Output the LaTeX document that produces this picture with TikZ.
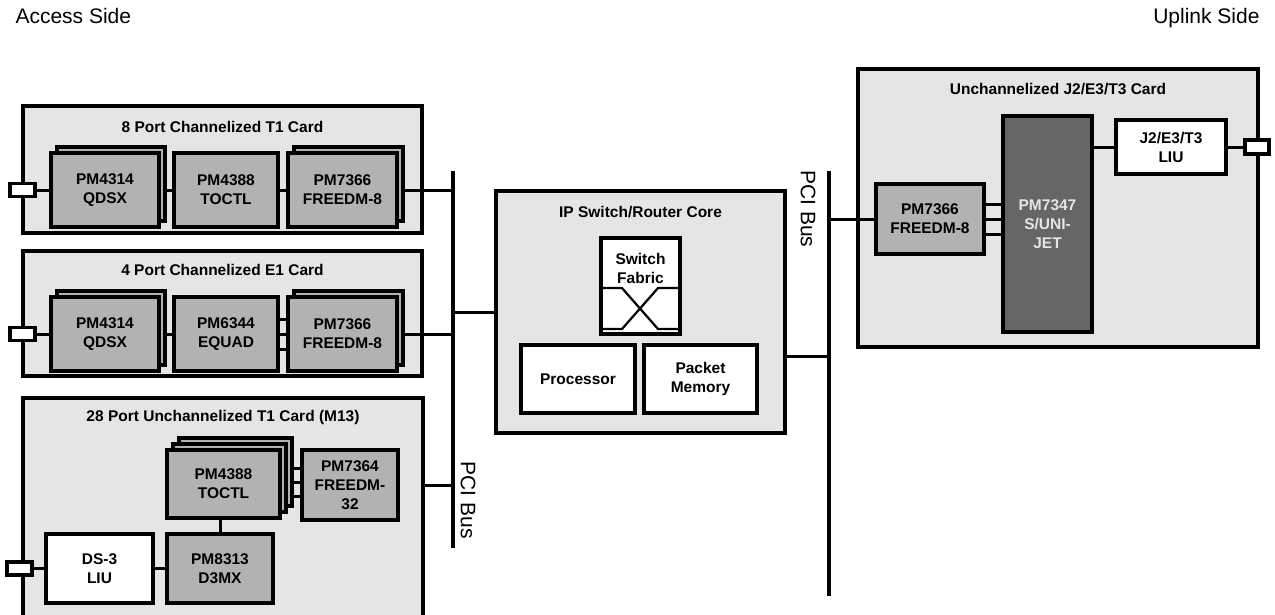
\documentclass[tikz,border=0pt]{standalone}
\usepackage{fontspec}
\setmainfont{Liberation Sans}
\usepackage{tikz}
\usetikzlibrary{positioning,shadows}
\definecolor{cardgray}{gray}{0.9}
\definecolor{chipgray}{gray}{0.7}
\definecolor{darkchip}{gray}{0.4}
\newcommand\chipfont{\fontsize{15.5}{19}\selectfont\bfseries}
\newcommand\sidefont{\fontsize{21}{25}\selectfont}
\tikzset{
    card/.style={draw,line width=3.2pt,fill=cardgray,anchor=north west,inner sep=0pt,outer sep=0pt},
    cardtitle/.style={font=\chipfont},
    chip/.style={draw,line width=3.2pt,fill=chipgray,font=\chipfont,align=center,inner sep=0pt,outer sep=0pt,minimum width=108pt,minimum height=74pt},
    whitechip/.style={chip,fill=white},
    stacked/.style={copy shadow={shadow xshift=6pt,shadow yshift=6pt,draw,fill=chipgray,line width=3.2pt}},
    stacked3/.style={double copy shadow={shadow xshift=6pt,shadow yshift=6pt,draw,fill=chipgray,line width=3.2pt}},
    port/.style={draw,line width=3.2pt,fill=white,inner sep=0pt,outer sep=0pt,minimum width=25pt,minimum height=13pt},
    wire/.style={line width=3pt},
    bus/.style={line width=4.2pt},
    buslabel/.style={font=\sidefont,rotate=-90}
}

\begin{document}
\begin{tikzpicture}[x=1pt,y=-1pt]
    \useasboundingbox (0,0) rectangle (1275,614);

    \node[anchor=base west,font=\sidefont] (access) at (12,23) {Access Side};
    \node[anchor=base east,font=\sidefont] (uplink) at (1263,23) {Uplink Side};

    \coordinate (bus 1 top) at (453,171);
    \coordinate (bus 1 bottom) at (453,548);
    \coordinate (bus 2 top) at (829,171);
    \coordinate (bus 2 bottom) at (829,596);

    % access side cards
    \node[card,minimum width=399pt,minimum height=127pt] (t1 card) at (23,106) {};
    \node[card,minimum width=399pt,minimum height=125pt] (e1 card) at (23,251) {};
    \node[card,minimum width=400pt,minimum height=230pt] (m13 card) at (23,398) {};
    \node[cardtitle] at ([yshift=-21pt]t1 card.north) {8 Port Channelized T1 Card};
    \node[cardtitle] at ([yshift=-19pt]e1 card.north) {4 Port Channelized E1 Card};
    \node[cardtitle] at ([yshift=-19pt]m13 card.north) {28 Port Unchannelized T1 Card (M13)};

    % T1
    \node[chip,stacked] (qdsx t1) at (105,190) {PM4314\\QDSX};
    \node[chip,minimum width=104pt,right=15pt of qdsx t1] (toctl t1) {PM4388\\TOCTL};
    \node[chip,stacked,minimum width=109pt,right=10pt of toctl t1] (freedm t1) {PM7366\\FREEDM-8};
    \node[port] (port t1) at (22.5,190) {};
    \draw[wire] (port t1) -- (qdsx t1);
    \draw[wire] ([xshift=6pt]qdsx t1.east) -- (toctl t1);
    \draw[wire] (toctl t1) -- (freedm t1);
    \draw[wire] ([xshift=6pt]freedm t1.east) -- (freedm t1 -| bus 1 top);

    % E1
    \node[chip,stacked] (qdsx e1) at (105,334) {PM4314\\QDSX};
    \node[chip,minimum width=104pt,right=15pt of qdsx e1] (equad) {PM6344\\EQUAD};
    \node[chip,stacked,minimum width=109pt,right=10pt of equad] (freedm e1) {PM7366\\FREEDM-8};
    \node[port] (port e1) at (22.5,334) {};
    \draw[wire] (port e1) -- (qdsx e1);
    \draw[wire] ([xshift=6pt]qdsx e1.east) -- (equad);
    \foreach \dy in {-15,0,15}
        \draw[wire] ([yshift=\dy pt]equad.east) -- ([yshift=\dy pt]freedm e1.west);
    \draw[wire] ([xshift=6pt]freedm e1.east) -- (freedm e1 -| bus 1 top);

    % M13
    \node[chip,stacked3,minimum width=113pt,minimum height=68pt] (toctl m13) at (223.5,484) {PM4388\\TOCTL};
    \node[chip,minimum width=96pt,minimum height=70pt] (freedm m13) at (350,485) {PM7364\\FREEDM-\\32};
    \node[chip,minimum width=106pt,minimum height=69pt] (d3mx) at (220,568.5) {PM8313\\D3MX};
    \node[whitechip,minimum width=107pt,minimum height=69pt,left=14pt of d3mx] (ds3 liu) {DS-3\\LIU};
    \node[port] (port m13) at (19.5,568.5) {};
    \draw[wire] (port m13) -- (ds3 liu);
    \draw[wire] (ds3 liu) -- (d3mx);
    \draw[wire] (d3mx) -- (d3mx |- toctl m13.south);
    \foreach \dy in {17,3,-11}
        \draw[wire] ([yshift=\dy pt]freedm m13.west) -- ([yshift=\dy pt,xshift=12pt]freedm m13.west -| toctl m13.east);
    \draw[wire] (m13 card.east |- freedm m13) -- (bus 1 top |- freedm m13);

    % core
    \node[card,minimum width=289pt,minimum height=242pt] (core) at (496,191) {};
    \node[cardtitle] at ([yshift=-21pt]core.north) {IP Switch/Router Core};
    \node[whitechip,minimum width=79pt,minimum height=96pt] (fabric) at (640.5,286) {};
    \node[font=\chipfont,align=center] (fabric text) at ([yshift=-30pt]fabric.north) {Switch\\Fabric};
    \draw[line width=2.2pt] ([yshift=-50pt]fabric.north west) -- ++(21,0) -- ++(36,41) -- ++(22,0);
    \draw[line width=2.2pt] ([yshift=-50pt]fabric.north east) -- ++(-22,0) -- ++(-36,41) -- ++(-21,0);
    \node[whitechip,minimum width=114pt,minimum height=68pt] (processor) at (578,379) {Processor};
    \node[whitechip,minimum width=113pt,minimum height=68pt,right=9pt of processor] (memory) {Packet\\Memory};
    \coordinate (core out) at ([yshift=-44pt]core.east);
    \draw[wire] (bus 1 top |- core) -- (core);
    \draw[wire] (core out) -- (core out -| bus 2 top);

    % uplink card
    \node[card,minimum width=400pt,minimum height=278pt] (j2 card) at (858,69) {};
    \node[cardtitle] at ([yshift=-20pt]j2 card.north) {Unchannelized J2/E3/T3 Card};
    \node[chip,minimum height=70pt] (freedm up) at (930,219) {PM7366\\FREEDM-8};
    \node[chip,fill=darkchip,text=cardgray,minimum width=89pt,minimum height=216pt] (sunijet) at (1047.5,224) {PM7347\\S/UNI-\\JET};
    \node[whitechip,minimum width=110pt,minimum height=54pt] (liu up) at (1171,147) {J2/E3/T3\\LIU};
    \node[port,minimum width=24pt,minimum height=14pt] (port up) at (1257,147) {};
    \draw[wire] (bus 2 top |- freedm up) -- (freedm up);
    \foreach \dy in {-15,0,15}
        \draw[wire] ([yshift=\dy pt]freedm up.east) -- ([yshift=\dy pt]freedm up.east -| sunijet.west);
    \draw[wire] (sunijet.east |- liu up) -- (liu up);
    \draw[wire] (liu up) -- (port up);

    % PCI buses
    \draw[bus] (bus 1 top) -- (bus 1 bottom);
    \draw[bus] (bus 2 top) -- (bus 2 bottom);
    \node[buslabel] (pci 1) at (468,500) {PCI Bus};
    \node[buslabel] (pci 2) at (808,209) {PCI Bus};

\end{tikzpicture}
\end{document}
